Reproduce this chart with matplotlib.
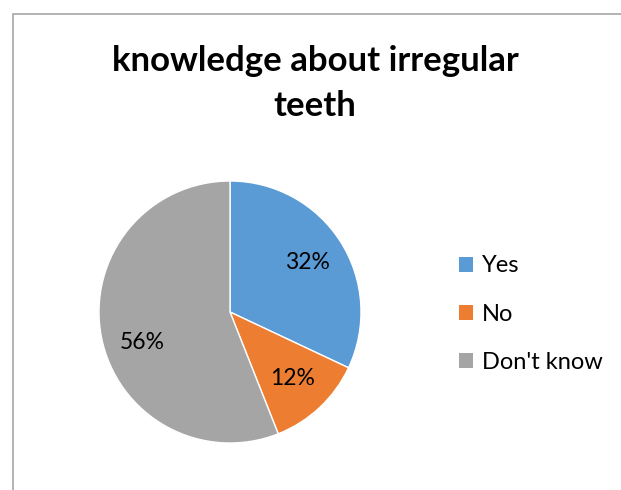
import matplotlib.pyplot as plt
from matplotlib.patches import Rectangle

labels = ["Yes", "No", "Don't know"]
shares = [32, 12, 56]
colors = ["#5B9BD5", "#ED7D31", "#A5A5A5"]
title_lines = ["knowledge about irregular", "teeth"]

plt.rcParams['font.family'] = ['Lato', 'DejaVu Sans']

fig = plt.figure(figsize=(6.21, 4.90), dpi=100)
W, H = 621, 490

# chart frame (left and top edges visible)
fig.add_artist(Rectangle((13 / W, -0.1), 1.2, (490 - 14) / H + 0.1,
                         transform=fig.transFigure, fill=False,
                         edgecolor="#A6A6A6", linewidth=1.2))

cx, cy, r = 230, 312, 131
ax = fig.add_axes([(cx - r) / W, (H - cy - r) / H, 2 * r / W, 2 * r / H])
wedges, texts, autotexts = ax.pie(shares, colors=colors, startangle=90,
                                  counterclock=False, autopct="%d%%",
                                  pctdistance=0.7, radius=1.0,
                                  wedgeprops=dict(edgecolor="white", linewidth=1),
                                  textprops=dict(fontsize=16.5, color="black"))
# best-fit style placement for the big slice label
autotexts[2].set_position((-0.67, -0.23))
ax.set_xlim(-1, 1)
ax.set_ylim(-1, 1)
ax.set_aspect("equal")
ax.axis("off")

for i, line in enumerate(title_lines):
    fig.text(315 / W, 1 - (71 + 45 * i) / H, line, ha="center", va="baseline",
             fontsize=25, fontweight="bold")

handles = [Rectangle((0, 0), 1, 1, facecolor=c) for c in colors]
fig.legend(handles, labels, loc="center left",
           bbox_to_anchor=(438 / W, 1 - 314 / H), frameon=False,
           fontsize=17, handlelength=0.6, handleheight=0.6,
           handletextpad=0.35, labelspacing=1.15)

plt.savefig("out.png", dpi=100)
